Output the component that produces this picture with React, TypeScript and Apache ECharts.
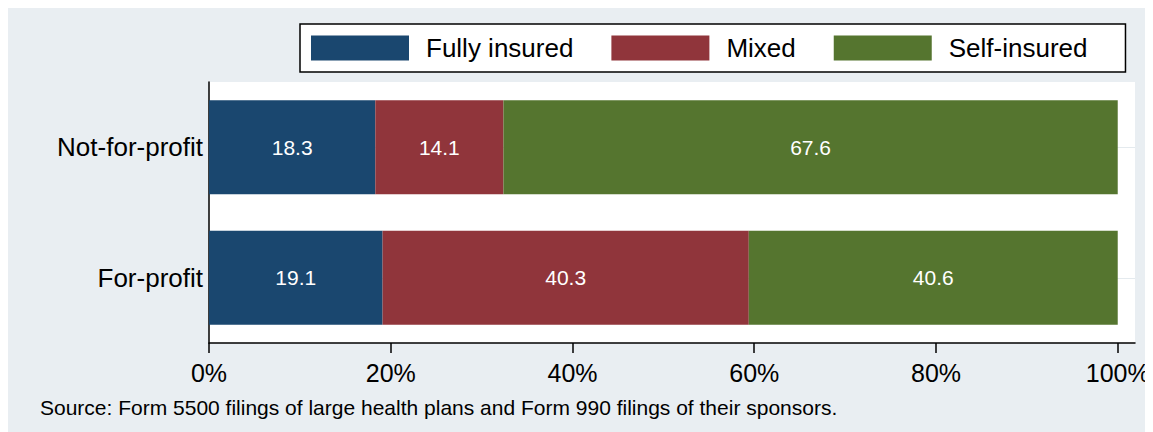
import React, { useEffect, useRef } from "react";
import * as echarts from "echarts";

const categories = ["Not-for-profit", "For-profit"];
const seriesNames = ["Fully insured", "Mixed", "Self-insured"];
const fullyInsured = [18.3, 19.1];
const mixed = [14.1, 40.3];
const selfInsured = [67.6, 40.6];
const xTicks = [0, 20, 40, 60, 80, 100];
const sourceNote =
  "Source: Form 5500 filings of large health plans and Form 990 filings of their sponsors.";

const colors = ["#1a476f", "#90353b", "#55752f"];
const FONT = "Liberation Sans, Arial, Helvetica, sans-serif";

export default function App() {
  const ref = useRef<HTMLDivElement>(null);
  useEffect(() => {
    document.documentElement.style.overflow = "hidden";
    document.body.style.overflow = "hidden";
    const chart = echarts.init(ref.current!, undefined, { renderer: "svg" });
    const values = [fullyInsured, mixed, selfInsured];
    const barSeries = seriesNames.map((name, i) => ({
      name,
      type: "bar",
      stack: "total",
      barWidth: 94,
      z: 3,
      itemStyle: { color: colors[i] },
      label: {
        show: true,
        position: "inside",
        color: "#ffffff",
        fontSize: 21,
        fontFamily: FONT,
        formatter: (p: any) => Number(p.value).toFixed(1),
      },
      data: values[i],
    }));
    chart.setOption({
      animation: false,
      backgroundColor: "#e9eef2",
      textStyle: { fontFamily: FONT },
      legend: {
        data: seriesNames,
        left: 292,
        top: 16,
        orient: "horizontal",
        itemWidth: 98,
        itemHeight: 25,
        itemGap: 38,
        icon: "rect",
        backgroundColor: "#ffffff",
        borderColor: "#000000",
        borderWidth: 1.5,
        borderRadius: 0,
        padding: [11, 38, 11, 11],
        textStyle: {
          fontSize: 26,
          color: "#000000",
          fontFamily: FONT,
          padding: [0, 0, 0, 12],
        },
      },
      grid: {
        left: 201,
        top: 74,
        right: 18,
        bottom: 89,
        show: true,
        backgroundColor: "#ffffff",
        borderWidth: 0,
      },
      xAxis: {
        type: "value",
        min: 0,
        max: 101.9,
        axisLine: { show: true, lineStyle: { color: "#000000", width: 1.5 } },
        axisTick: {
          show: true,
          length: 10,
          customValues: xTicks,
          lineStyle: { color: "#000000", width: 1.5 },
        },
        axisLabel: {
          customValues: xTicks,
          formatter: "{value}%",
          fontSize: 25,
          color: "#000000",
          fontFamily: FONT,
          margin: 17,
        },
        splitLine: { show: false },
      },
      yAxis: {
        type: "category",
        inverse: true,
        data: categories,
        axisLine: { show: true, lineStyle: { color: "#000000", width: 1.5 } },
        axisTick: { show: false },
        axisLabel: {
          fontSize: 26,
          color: "#000000",
          fontFamily: FONT,
          margin: 6,
        },
      },
      series: [
        {
          name: "grid",
          type: "line",
          data: [],
          z: 1,
          silent: true,
          markLine: {
            silent: true,
            z: 1,
            symbol: "none",
            label: { show: false },
            lineStyle: { color: "#e4eaee", width: 1, type: "solid" },
            data: categories.map((c) => ({ yAxis: c })),
          },
        },
        ...barSeries,
      ],
      graphic: [
        {
          type: "text",
          left: 32,
          top: 389,
          style: {
            text: sourceNote,
            fontSize: 21,
            fill: "#000000",
            fontFamily: FONT,
          },
        },
      ],
    });
    return () => chart.dispose();
  }, []);
  return <div ref={ref} style={{ width: 1145, height: 424 }} />;
}
